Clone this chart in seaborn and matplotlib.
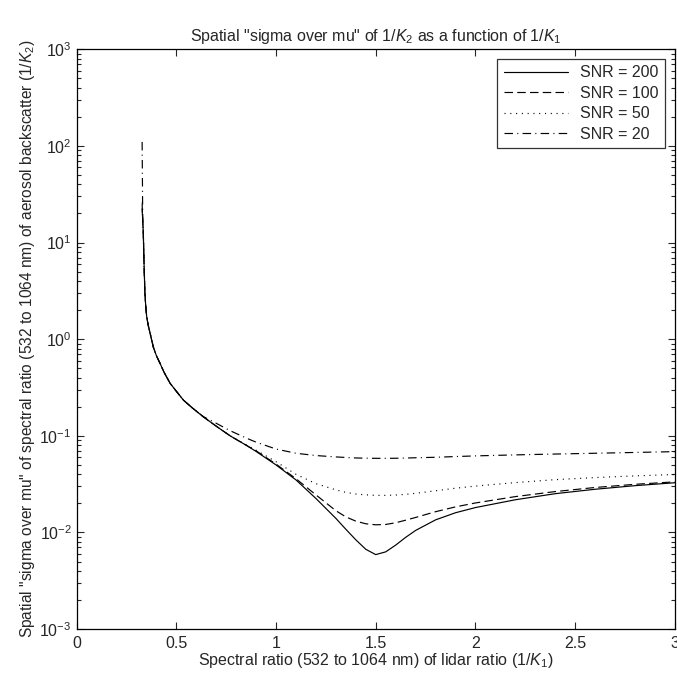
import matplotlib
matplotlib.use('Agg')
import matplotlib.pyplot as plt
import seaborn as sns
import pandas as pd
from matplotlib.ticker import LogLocator, NullFormatter

# values
x = [0.329, 0.332, 0.335, 0.339, 0.343, 0.347, 0.352, 0.36, 0.369, 0.385, 0.40, 0.419,
     0.44, 0.469, 0.50, 0.536, 0.58, 0.636, 0.70, 0.77, 0.85, 0.90,
     1.00, 1.10, 1.20, 1.30, 1.35, 1.40, 1.45, 1.50, 1.55, 1.60,
     1.65, 1.70, 1.80, 1.90, 2.00, 2.20, 2.40, 2.60, 2.80, 3.00]

snr200 = [22, 17, 12.3, 5.6, 3.0, 2.2, 1.7, 1.38, 1.15, 0.83, 0.68, 0.56,
          0.45, 0.35, 0.29, 0.234, 0.195, 0.157, 0.126, 0.100, 0.080, 0.069,
          0.050, 0.035, 0.0225, 0.0140, 0.0108, 0.0084, 0.0067, 0.0059, 0.0063, 0.0074,
          0.0089, 0.0105, 0.0135, 0.016, 0.0181, 0.0218, 0.0252, 0.0280, 0.0305, 0.0327]
snr100 = [25, 17, 12.3, 5.6, 3.0, 2.2, 1.7, 1.38, 1.15, 0.83, 0.68, 0.56,
          0.45, 0.35, 0.29, 0.234, 0.195, 0.157, 0.126, 0.100, 0.080, 0.070,
          0.051, 0.036, 0.0245, 0.0168, 0.0145, 0.0131, 0.0123, 0.0120, 0.0121, 0.0126,
          0.0134, 0.0143, 0.0164, 0.0184, 0.0202, 0.0235, 0.0265, 0.0292, 0.0315, 0.0334]
snr50 = [26, 17, 12.3, 5.6, 3.0, 2.2, 1.7, 1.38, 1.15, 0.83, 0.68, 0.56,
         0.45, 0.35, 0.29, 0.234, 0.195, 0.157, 0.126, 0.100, 0.081, 0.071,
         0.054, 0.040, 0.032, 0.0276, 0.0260, 0.0250, 0.0245, 0.0242, 0.0242, 0.0244,
         0.0248, 0.0254, 0.027, 0.0287, 0.0302, 0.0328, 0.0352, 0.0370, 0.0385, 0.0398]
snr20 = [110, 17, 12.3, 5.6, 3.0, 2.2, 1.7, 1.38, 1.15, 0.83, 0.68, 0.56,
         0.45, 0.35, 0.29, 0.234, 0.195, 0.158, 0.135, 0.113, 0.095, 0.086,
         0.073, 0.066, 0.0625, 0.0605, 0.0597, 0.059, 0.0587, 0.0585, 0.0585, 0.0586,
         0.0589, 0.0593, 0.060, 0.061, 0.062, 0.0635, 0.0648, 0.066, 0.0673, 0.0686]

labels = ['SNR = 200', 'SNR = 100', 'SNR = 50', 'SNR = 20']
series = [snr200, snr100, snr50, snr20]
dash_styles = ['-', (0, (7.2, 3.6)), (0, (0.9, 4)), (0, (7.2, 3.6, 0.9, 3.6))]

xticks = [0, 0.5, 1, 1.5, 2, 2.5, 3]
xticklabels = ['0', '0.5', '1', '1.5', '2', '2.5', '3']

sns.set_style('ticks')
plt.rcParams['font.family'] = ['Liberation Sans', 'DejaVu Sans']
plt.rcParams['mathtext.fontset'] = 'custom'
plt.rcParams['mathtext.rm'] = 'Liberation Sans'
plt.rcParams['mathtext.it'] = 'Liberation Sans:italic'

fig = plt.figure(figsize=(6.77, 6.75), dpi=100)
ax = fig.add_axes([0.113, 0.068, 0.884, 0.859])

for lab, ys, ls in zip(labels, series, dash_styles):
    df = pd.DataFrame({'x': x, 'y': ys})
    sns.lineplot(data=df, x='x', y='y', ax=ax, color='k', linewidth=0.85,
                 linestyle=ls, label=lab, sort=False)

ax.set_yscale('log')
ax.set_xticks(xticks)
ax.set_xticklabels(xticklabels)
ax.set_xlim(0, 3)
ax.set_ylim(1e-3, 1e3)
ax.yaxis.set_major_locator(LogLocator(base=10, numticks=10))
ax.yaxis.set_minor_locator(LogLocator(base=10, subs=range(2, 10), numticks=20))
ax.yaxis.set_minor_formatter(NullFormatter())
ax.tick_params(which='both', direction='in', top=True, right=True, labelsize=11.5, width=0.8)
ax.tick_params(which='major', length=5)
ax.tick_params(which='minor', length=3)
ax.tick_params(axis='x', pad=5)
for s in ax.spines.values():
    s.set_linewidth(0.9)
    s.set_color('k')

ax.set_title('Spatial "sigma over mu" of 1/$\\mathit{K}_2$ as a function of 1/$\\mathit{K}_1$',
             fontsize=11.5, pad=6)
ax.set_xlabel('Spectral ratio (532 to 1064 nm) of lidar ratio (1/$\\mathit{K}_1$)', fontsize=11.5, labelpad=0)
ax.set_ylabel('Spatial "sigma over mu" of spectral ratio (532 to 1064 nm) of aerosol backscatter (1/$\\mathit{K}_2$)',
              fontsize=11.2, labelpad=2)

leg = ax.legend(loc='upper right', fontsize=11.5, frameon=True, fancybox=False,
                handlelength=4, borderaxespad=0.6, labelspacing=0.35)
leg.get_frame().set_edgecolor('k')
leg.get_frame().set_linewidth(0.9)

fig.savefig('out.png', dpi=100)
